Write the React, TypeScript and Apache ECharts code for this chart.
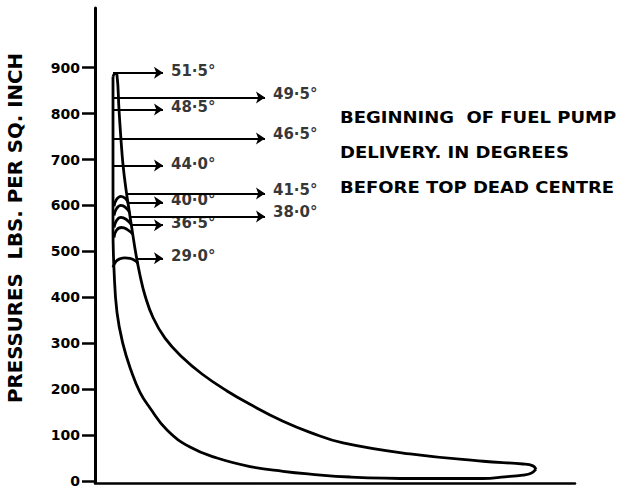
import React, { useEffect, useRef } from "react";
import * as echarts from "echarts";

// Pressure tick labels (lbs per sq. inch)
const yTicks = [0, 100, 200, 300, 400, 500, 600, 700, 800, 900];

// Outer indicator loop (51.5° curve): expansion line down to the tip, then compression line back up
const expansionCurve: [number, number][] = [
  [18, 880], [20, 887], [22, 884], [24, 809], [26, 743], [28, 689], [31, 635], [34, 591],
  [37, 548], [41, 493], [45, 448], [50, 404], [58, 356], [70, 311], [87, 270], [107, 233],
  [132, 196], [155, 167], [188, 130], [215, 106], [248, 83], [315, 59], [388, 43], [428, 37],
  [438, 33], [441, 26],
];
const compressionCurve: [number, number][] = [
  [441, 26], [436, 17], [428, 13], [410, 9], [388, 5.4], [320, 5.4], [255, 8.7], [215, 15],
  [188, 21], [155, 31.5], [122, 50], [95, 74], [72, 111], [55, 159], [45, 193], [36, 241],
  [28, 298], [22, 367], [19, 461], [18, 548], [18, 700], [18, 880],
];

// Peak caps for the lower timings
const cap415: [number, number][] = [[19, 598], [21.5, 613], [26, 620], [30.5, 615], [33.5, 604]];
const cap400: [number, number][] = [[19, 578], [21.5, 593], [26, 600], [30.5, 596], [34.5, 585]];
const cap380: [number, number][] = [[19, 552], [21.5, 567], [26, 574], [31, 570], [36, 559]];
const cap365: [number, number][] = [[19, 530], [21.5, 546], [26.5, 552], [32, 548], [38, 537]];
const cap290: [number, number][] = [[18, 465], [21, 478], [25, 484], [30, 486], [35, 485], [40, 480], [43, 474]];

// Arrows: label, start x, end x, pressure level
const shortArrows: [string, number, number, number][] = [
  ["51·5°", 18, 68, 889],
  ["48·5°", 18, 68, 809],
  ["44·0°", 18, 68, 687],
  ["40·0°", 33, 68, 607],
  ["36·5°", 36, 68, 557],
  ["29·0°", 42, 68, 485],
];
const longArrows: [string, number, number, number][] = [
  ["49·5°", 18, 170, 835],
  ["46·5°", 18, 170, 746],
  ["41·5°", 32, 170, 626],
  ["38·0°", 35, 170, 576],
];

const noteLines = ["BEGINNING  OF FUEL PUMP", "DELIVERY. IN DEGREES", "BEFORE TOP DEAD CENTRE"];
const yTitle = "PRESSURES  LBS. PER SQ. INCH";

const INK = "#000000";
const FONT = "DejaVu Sans";

export default function App() {
  const ref = useRef<HTMLDivElement | null>(null);

  useEffect(() => {
    if (!ref.current) return;
    const chart = echarts.init(ref.current, undefined, { renderer: "svg" });

    const curveSeries = (data: [number, number][], smooth: number) => ({
      type: "line",
      data,
      smooth,
      symbol: "none",
      silent: true,
      lineStyle: { color: INK, width: 2.8 },
      z: 3,
    });

    const arrowSeries = (arr: [string, number, number, number][]) => ({
      type: "lines",
      coordinateSystem: "cartesian2d",
      symbol: ["none", "arrow"],
      symbolSize: 9,
      silent: true,
      lineStyle: { color: INK, width: 2, opacity: 1 },
      data: arr.map((a) => ({ name: a[0], coords: [[a[1], a[3]], [a[2], a[3]]] })),
      z: 4,
    });

    const labelSeries = (arr: [string, number, number, number][], dy: number) => ({
      type: "scatter",
      symbolSize: 0,
      silent: true,
      data: arr.map((a) => [a[2], a[3], a[0]]),
      label: {
        show: true,
        position: "right",
        distance: 8,
        offset: [0, dy],
        formatter: (p: any) => p.value[2],
        color: INK,
        fontFamily: FONT,
        fontWeight: "bold",
        fontSize: 15,
      },
      z: 5,
    });

    chart.setOption({
      animation: false,
      backgroundColor: "#ffffff",
      grid: { left: 95, right: 55, top: 8, bottom: 4 },
      xAxis: {
        type: "value",
        min: 0,
        max: 480,
        axisLine: { onZero: false, lineStyle: { color: INK, width: 2.5 } },
        axisTick: { show: false },
        axisLabel: { show: false },
        splitLine: { show: false },
      },
      yAxis: {
        type: "value",
        min: -4,
        max: 1030,
        axisLine: { show: true, lineStyle: { color: INK, width: 3 } },
        axisTick: {
          show: true,
          customValues: yTicks,
          length: 13,
          lineStyle: { color: INK, width: 2.5 },
        },
        axisLabel: {
          customValues: yTicks,
          margin: 15,
          color: INK,
          fontFamily: FONT,
          fontWeight: "bold",
          fontSize: 14,
          padding: [0, 0, 5, 0],
        },
        splitLine: { show: false },
      },
      graphic: [
        {
          type: "text",
          x: 16,
          y: 228,
          rotation: Math.PI / 2,
          scaleX: 1.04,
          style: {
            text: yTitle,
            fill: INK,
            font: `bold 19px "${FONT}"`,
            align: "center",
            verticalAlign: "middle",
          },
        },
        ...noteLines.map((t, i) => ({
          type: "text",
          x: 340,
          y: 118 + i * 35,
          scaleX: 1.2,
          style: {
            text: t,
            fill: INK,
            font: `bold 15px "${FONT}"`,
            align: "left",
            verticalAlign: "middle",
          },
        })),
      ],
      series: [
        curveSeries(expansionCurve, 0.45),
        curveSeries(compressionCurve, 0.45),
        curveSeries(cap415, 0.5),
        curveSeries(cap400, 0.5),
        curveSeries(cap380, 0.5),
        curveSeries(cap365, 0.5),
        curveSeries(cap290, 0.5),
        arrowSeries(shortArrows),
        arrowSeries(longArrows),
        labelSeries(shortArrows, -2),
        labelSeries(longArrows, -4),
      ],
    });

    return () => chart.dispose();
  }, []);

  return (
    <div
      ref={ref}
      style={{ position: "fixed", left: 0, top: 0, width: 630, height: 488, background: "#fff" }}
    />
  );
}
